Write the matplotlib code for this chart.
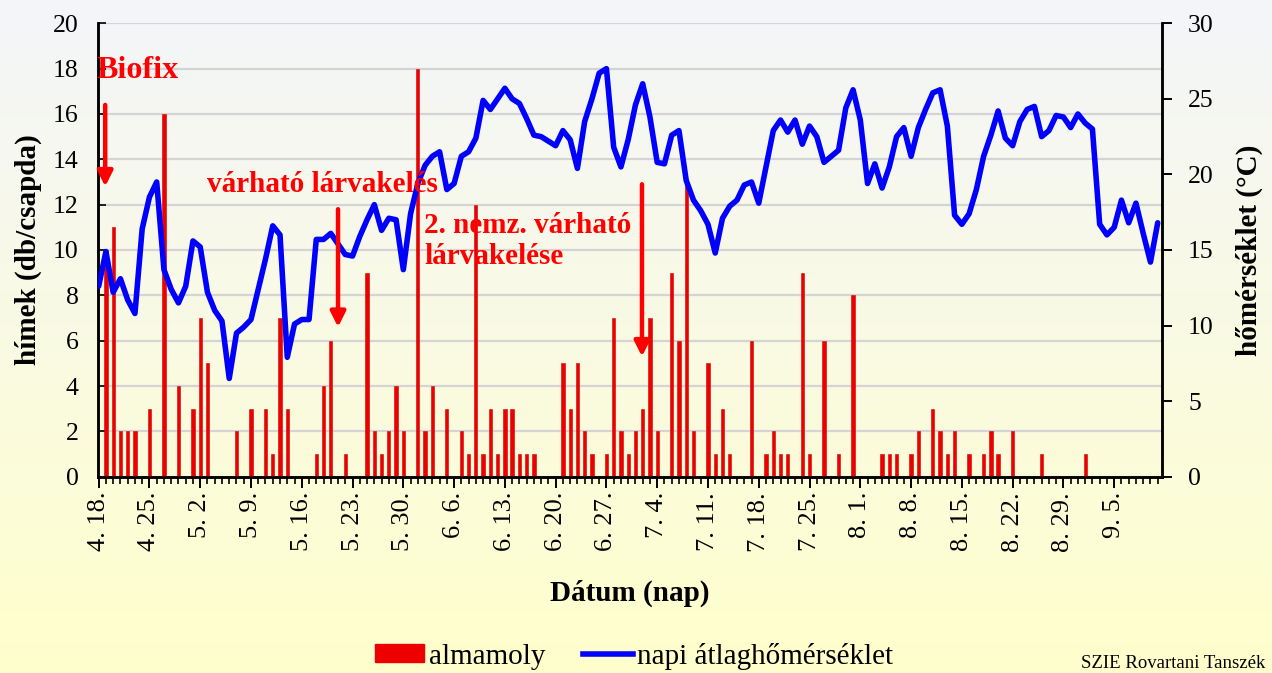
import datetime as dt
import numpy as np
import matplotlib
matplotlib.use("Agg")
import matplotlib.pyplot as plt
from matplotlib.patches import Patch
from matplotlib.lines import Line2D

plt.rcParams['font.family'] = ['Liberation Serif', 'DejaVu Serif']

# ---------------- data ----------------
start_date = dt.date(2001, 4, 18)
n_days = 147
dates = [start_date + dt.timedelta(days=i) for i in range(n_days)]
date_labels = [f"{d.month}. {d.day}." for d in dates]

# daily catches (almamoly, males / trap)
moth_counts = [
    0, 10, 11, 2, 2, 2, 0, 3, 0, 16, 0, 4, 0, 3, 7, 5, 0, 0, 0, 2,
    0, 3, 0, 3, 1, 7, 3, 0, 0, 0, 1, 4, 6, 0, 1, 0, 0, 9, 2, 1,
    2, 4, 2, 0, 18, 2, 4, 0, 3, 0, 2, 1, 12, 1, 3, 1, 3, 3, 1, 1,
    1, 0, 0, 0, 5, 3, 5, 2, 1, 0, 1, 7, 2, 1, 2, 3, 7, 2, 0, 9,
    6, 13, 2, 0, 5, 1, 3, 1, 0, 0, 6, 0, 1, 2, 1, 1, 0, 9, 1, 0,
    6, 0, 1, 0, 8, 0, 0, 0, 1, 1, 1, 0, 1, 2, 0, 3, 2, 1, 2, 0,
    1, 0, 1, 2, 1, 0, 2, 0, 0, 0, 1, 0, 0, 0, 0, 0, 1, 0, 0, 0,
    0, 0, 0, 0, 0, 0, 0,
]

# daily mean temperature (°C)
temperature = [
    12.6, 14.9, 12.2, 13.1, 11.7, 10.8, 16.4, 18.5, 19.5, 13.7,
    12.4, 11.5, 12.6, 15.6, 15.2, 12.2, 11.0, 10.3, 6.5, 9.5,
    9.9, 10.4, 12.4, 14.4, 16.6, 16.0, 7.9, 10.1, 10.4, 10.4,
    15.7, 15.7, 16.1, 15.4, 14.7, 14.6, 15.9, 17.0, 18.0, 16.3,
    17.1, 17.0, 13.7, 17.4, 19.4, 20.6, 21.2, 21.5, 19.0, 19.4,
    21.2, 21.5, 22.4, 24.9, 24.3, 25.0, 25.7, 25.0, 24.7, 23.7,
    22.6, 22.5, 22.2, 21.9, 22.9, 22.3, 20.4, 23.5, 25.0, 26.7,
    27.0, 21.8, 20.5, 22.3, 24.6, 26.0, 23.8, 20.8, 20.7, 22.6,
    22.9, 19.6, 18.3, 17.6, 16.7, 14.8, 17.1, 17.9, 18.3, 19.3,
    19.5, 18.1, 20.5, 22.9, 23.6, 22.8, 23.6, 22.0, 23.2, 22.5,
    20.8, 21.2, 21.6, 24.4, 25.6, 23.6, 19.4, 20.7, 19.1, 20.5,
    22.5, 23.1, 21.2, 23.1, 24.3, 25.4, 25.6, 23.2, 17.3, 16.7,
    17.4, 19.0, 21.2, 22.6, 24.2, 22.4, 21.9, 23.5, 24.3, 24.5,
    22.5, 22.9, 23.9, 23.8, 23.1, 24.0, 23.4, 23.0, 16.7, 16.0,
    16.5, 18.3, 16.8, 18.1, 16.1, 14.2, 16.8,
]

label_step = 7
left_ticks = list(range(0, 21, 2))
right_ticks = list(range(0, 31, 5))

# annotations: (text, x day index, y in catches, font size)
notes = [
    ("Biofix", -0.3, 17.9, 23),
    ("várható lárvakelés", 14.9, 12.9, 21),
    ("2. nemz. várható\nlárvakelése", 44.9, 10.4, 21),
]
arrows = [  # (x day index, y start, y end) in catch units
    (0.9, 16.4, 12.8),
    (33.0, 11.8, 6.6),
    (74.9, 12.9, 5.3),
]

# ---------------- figure ----------------
W, H = 1272, 673
fig = plt.figure(figsize=(W / 100, H / 100), dpi=100)

# gradient background
bg = fig.add_axes([0, 0, 1, 1], zorder=-10)
top_c = np.array([0.955, 0.962, 0.980])
bot_c = np.array([1.0, 1.0, 0.80])
t = np.linspace(0, 1, 256)[:, None]
grad = (top_c[None, :] * (1 - t) + bot_c[None, :] * t)[:, None, :]
bg.imshow(grad, aspect='auto', extent=[0, 1, 0, 1], interpolation='bilinear')
bg.set_axis_off()

ax_l, ax_r = 98.3 / W, 1161.7 / W
ax_b, ax_t = 1 - 476.7 / H, 1 - 23.3 / H
ax = fig.add_axes([ax_l, ax_b, ax_r - ax_l, ax_t - ax_b])
ax.set_facecolor('none')

x = np.arange(n_days)
ax.bar(x, moth_counts, width=0.45, color='#EE0000', edgecolor='#D00000',
       linewidth=0.4, zorder=3)
ax.set_xlim(-0.05, 146.55)
ax.set_ylim(0, 20)
ax.set_yticks(left_ticks)
ax.yaxis.grid(True, color='#D4D4D4', linewidth=1.6, zorder=0)
ax.set_axisbelow(True)

ax.set_xticks(x[::label_step])
ax.set_xticklabels(date_labels[::label_step], rotation=90, fontsize=19)
ax.set_xticks(x, minor=True)
ax.tick_params(axis='x', which='major', direction='out', length=8, width=1.4, pad=3)
ax.tick_params(axis='x', which='minor', direction='out', length=5, width=1.2)
ax.tick_params(axis='y', direction='in', length=6, width=1.2, labelsize=18.5, pad=14)
for s in ['left', 'bottom', 'right']:
    ax.spines[s].set_linewidth(1.8)
    ax.spines[s].set_color('black')
ax.spines['top'].set_visible(False)

ax.set_ylabel('hímek (db/csapda)', fontsize=21, fontweight='bold', labelpad=8)
ax.set_xlabel('Dátum (nap)', fontsize=21, fontweight='bold', labelpad=20)

ax2 = ax.twinx()
ax2.set_facecolor('none')
ax2.plot(x, temperature, color='#0000FF', linewidth=4.0, solid_joinstyle='round',
         solid_capstyle='round', zorder=4)
ax2.set_ylim(0, 30)
ax2.set_yticks(right_ticks)
ax2.tick_params(axis='y', direction='out', length=7, width=1.4, labelsize=18.5, pad=12)
ax2.spines['top'].set_visible(False)
for s in ['left', 'bottom', 'right']:
    ax2.spines[s].set_linewidth(1.8)
ax2.set_ylabel('hőmérséklet (°C)', fontsize=21, fontweight='bold', labelpad=16)

# annotations on top of everything (in catch units)
for txt, xd, yd, fs in notes:
    ax2.text(xd, yd, txt, transform=ax.transData, color='#FF0000', fontsize=fs,
             fontweight='bold', ha='left', va='center', linespacing=1.15, zorder=10)
for xd, y0, y1 in arrows:
    ax2.annotate('', xy=(xd, y1), xytext=(xd, y0), xycoords=ax.transData,
                 textcoords=ax.transData,
                 arrowprops=dict(arrowstyle='-|>,head_length=0.9,head_width=0.45',
                                 color='#FF0000', lw=3.2, shrinkA=0, shrinkB=0),
                 zorder=10)

# legend
handles = [Patch(facecolor='#EE0000', edgecolor='#EE0000'),
           Line2D([0], [0], color='#0000FF', linewidth=4)]
fig.legend(handles, ['almamoly', 'napi átlaghőmérséklet'], loc='center',
           bbox_to_anchor=(634 / W, 1 - 656 / H), ncol=2, frameon=False,
           fontsize=21, handlelength=1.7, handleheight=0.55, handletextpad=0.15,
           columnspacing=1.3)

fig.text(1265 / W, 1 - 664 / H, 'SZIE Rovartani Tanszék', fontsize=13.5,
         ha='right', va='center')

fig.savefig('out.png', dpi=100)
